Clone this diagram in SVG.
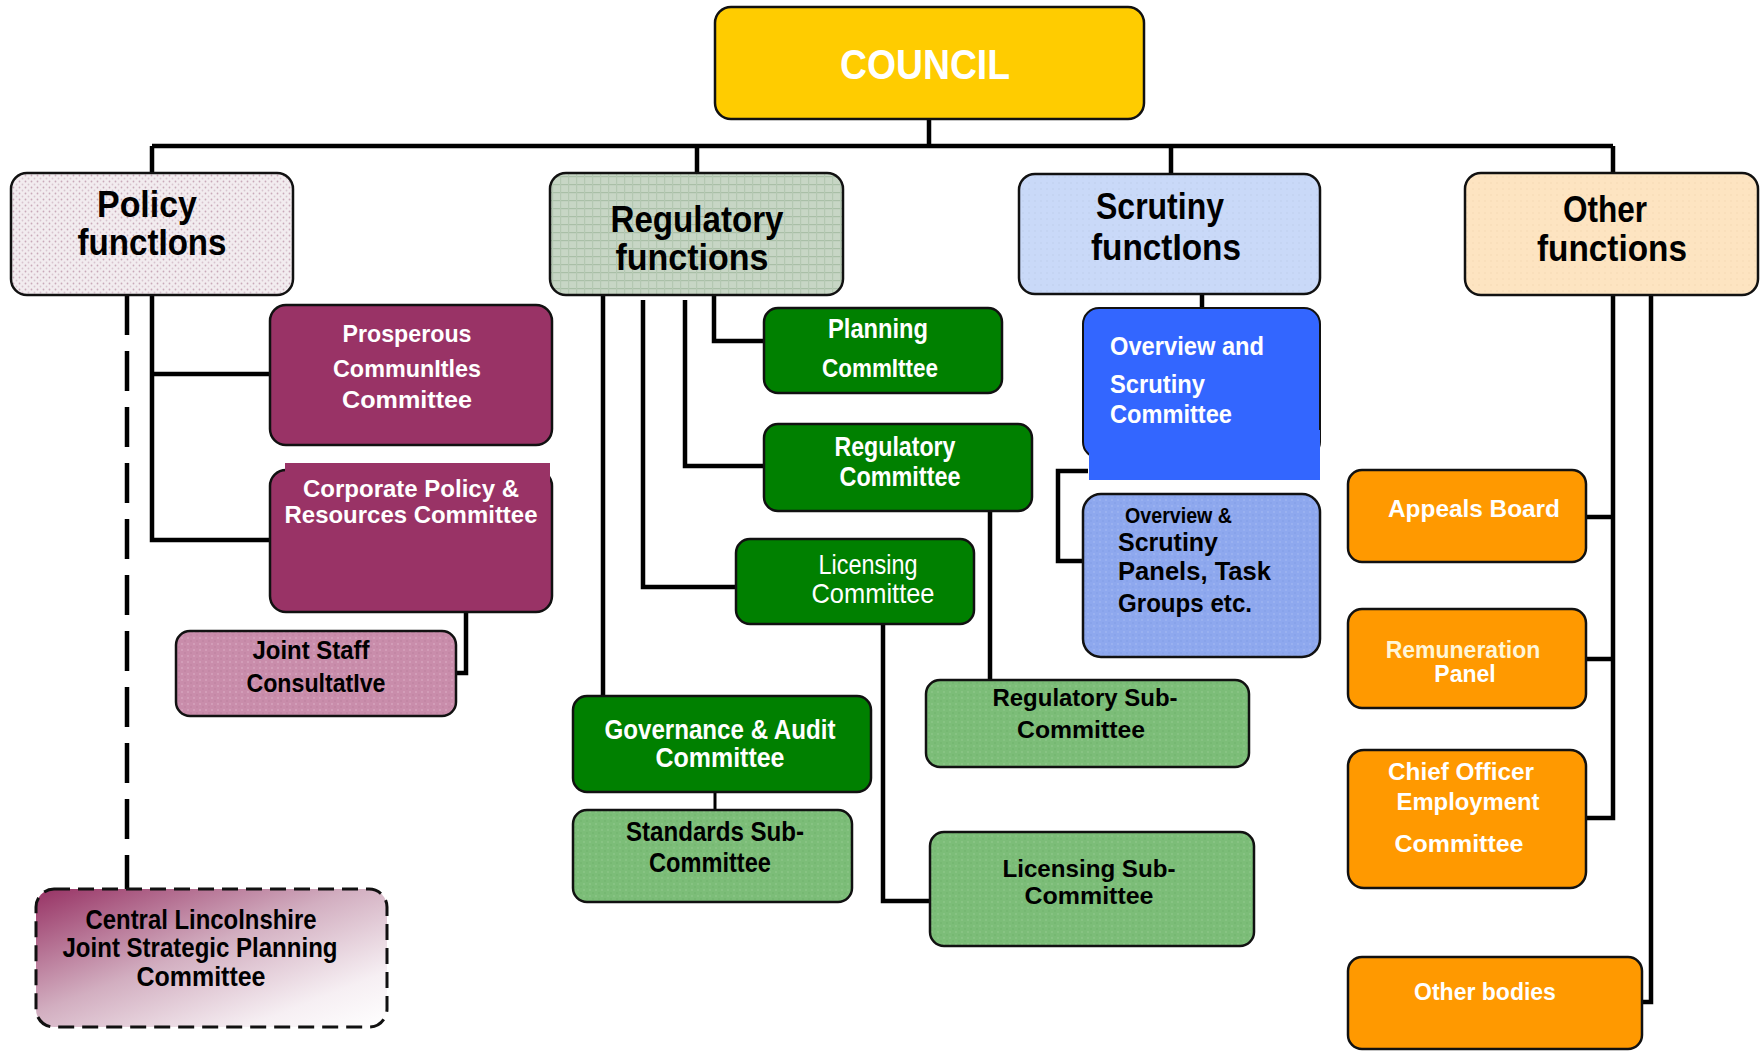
<svg xmlns="http://www.w3.org/2000/svg" width="1760" height="1051" viewBox="0 0 1760 1051">
<defs>
<style>
.box{stroke:#111;stroke-width:2.5}
.conn{fill:none;stroke:#000;stroke-width:4.5}
.tn{font-family:"Liberation Sans",Arial,sans-serif;font-weight:bold}
.tr{font-family:"Liberation Sans",Arial,sans-serif}
.tw{font-family:"Liberation Sans",Arial,sans-serif;font-weight:bold}
.w{fill:#fff}
.k{fill:#000}
.c{text-anchor:middle}
</style>
<pattern id="pPolicy" width="6" height="6" patternUnits="userSpaceOnUse">
<rect width="6" height="6" fill="#f2ecef"/><circle cx="1.5" cy="1.5" r="0.9" fill="#c9a9b9"/><circle cx="4.5" cy="4.5" r="0.9" fill="#d8c4ce"/>
</pattern>
<pattern id="pReg" width="8" height="8" patternUnits="userSpaceOnUse">
<rect width="8" height="8" fill="#c7d6c5"/><rect width="8" height="1.2" fill="#a9bfa7"/><rect width="1.2" height="8" fill="#b4c8b2"/>
</pattern>
<pattern id="pScr" width="6" height="6" patternUnits="userSpaceOnUse">
<rect width="6" height="6" fill="#c9d9f8"/><circle cx="3" cy="3" r="0.7" fill="#bccbe8"/>
</pattern>
<pattern id="pOther" width="6" height="6" patternUnits="userSpaceOnUse">
<rect width="6" height="6" fill="#fde4c1"/><circle cx="3" cy="3" r="0.7" fill="#f2d6b0"/>
</pattern>
<pattern id="pJsc" width="6" height="6" patternUnits="userSpaceOnUse">
<rect width="6" height="6" fill="#c98dab"/><circle cx="2" cy="2" r="1" fill="#d6a3bd"/><circle cx="5" cy="5" r="0.8" fill="#bd7f9e"/>
</pattern>
<pattern id="pLight" width="6" height="6" patternUnits="userSpaceOnUse">
<rect width="6" height="6" fill="#7cbd78"/><circle cx="2" cy="2" r="0.9" fill="#8cc788"/><circle cx="5" cy="5" r="0.8" fill="#6eb16a"/>
</pattern>
<pattern id="pPanel" width="6" height="6" patternUnits="userSpaceOnUse">
<rect width="6" height="6" fill="#8ea8ee"/><circle cx="2" cy="2" r="0.9" fill="#9fb5f2"/><circle cx="5" cy="5" r="0.8" fill="#819de6"/>
</pattern>
<linearGradient id="gCentral" x1="0" y1="0" x2="1" y2="1">
<stop offset="0" stop-color="#973264"/><stop offset="0.45" stop-color="#d2aec0"/><stop offset="0.8" stop-color="#f6eff3"/><stop offset="1" stop-color="#ffffff"/>
</linearGradient>
</defs>
<rect width="1760" height="1051" fill="#fff"/>

<g id="connectors">
<path class="conn" d="M929 119 V146 M152 146 H1613 M152 146 V174 M697 146 V174 M1171 146 V174 M1613 146 V174"/>
<path class="conn" d="M152 295 V540 H270 M152 374 H270"/>
<path class="conn" d="M466 612 V673 H456"/>
<path fill="none" stroke="#000" stroke-width="4.5" stroke-dasharray="40,16" d="M127 295 V889"/>
<path class="conn" d="M603 295 V696"/>
<path class="conn" d="M643 300 V587 H736"/>
<path class="conn" d="M685 300 V466 H764"/>
<path class="conn" d="M714 295 V341 H764"/>
<path fill="none" stroke="#000" stroke-width="3" d="M715 792 V810"/>
<path class="conn" d="M990 511 V680"/>
<path class="conn" d="M883 624 V901 H930"/>
<path class="conn" d="M1202 294 V308"/>
<path class="conn" d="M1088 471 H1058 V561 H1083"/>
<path class="conn" d="M1613 295 V818 H1586 M1586 517 H1613 M1586 659 H1613"/>
<path class="conn" d="M1651 295 V1002 H1642"/>
</g>

<g id="council">
<rect class="box" x="715" y="7" width="429" height="112" rx="16" fill="#ffcc00"/>
<text class="tn w c" x="925" y="79" font-size="42" textLength="170" lengthAdjust="spacingAndGlyphs">COUNCIL</text>
</g>

<g id="policy-functions">
<rect class="box" x="11" y="173" width="282" height="122" rx="16" fill="url(#pPolicy)"/>
<text class="tn k c" x="147" y="217" font-size="36" textLength="100" lengthAdjust="spacingAndGlyphs">Policy</text>
<text class="tn k c" x="152" y="255" font-size="36" textLength="149" lengthAdjust="spacingAndGlyphs">functIons</text>
</g>

<g id="regulatory-functions">
<rect class="box" x="550" y="173" width="293" height="122" rx="16" fill="url(#pReg)"/>
<text class="tn k c" x="697" y="232" font-size="36" textLength="173" lengthAdjust="spacingAndGlyphs">Regulatory</text>
<text class="tn k c" x="692" y="270" font-size="36" textLength="153" lengthAdjust="spacingAndGlyphs">functions</text>
</g>

<g id="scrutiny-functions">
<rect class="box" x="1019" y="174" width="301" height="120" rx="16" fill="url(#pScr)"/>
<text class="tn k c" x="1160" y="219" font-size="36" textLength="128" lengthAdjust="spacingAndGlyphs">Scrutiny</text>
<text class="tn k c" x="1166" y="260" font-size="36" textLength="150" lengthAdjust="spacingAndGlyphs">functIons</text>
</g>

<g id="other-functions">
<rect class="box" x="1465" y="173" width="293" height="122" rx="16" fill="url(#pOther)"/>
<text class="tn k c" x="1605" y="222" font-size="36" textLength="84" lengthAdjust="spacingAndGlyphs">Other</text>
<text class="tn k c" x="1612" y="261" font-size="36" textLength="150" lengthAdjust="spacingAndGlyphs">functions</text>
</g>

<g id="prosperous-communities">
<rect class="box" x="270" y="305" width="282" height="140" rx="16" fill="#993366"/>
<text class="tw w c" x="407" y="342" font-size="24" textLength="129" lengthAdjust="spacingAndGlyphs">Prosperous</text>
<text class="tw w c" x="407" y="377" font-size="24" textLength="148" lengthAdjust="spacingAndGlyphs">CommunItles</text>
<text class="tw w c" x="407" y="408" font-size="24" textLength="130" lengthAdjust="spacingAndGlyphs">Committee</text>
</g>

<g id="corporate-policy">
<rect class="box" x="270" y="470" width="282" height="142" rx="16" fill="#993366"/>
<rect x="285" y="463" width="265" height="40" fill="#993366"/>
<text class="tw w c" x="411" y="497" font-size="24" textLength="216" lengthAdjust="spacingAndGlyphs">Corporate Policy &amp;</text>
<text class="tw w c" x="411" y="523" font-size="24" textLength="253" lengthAdjust="spacingAndGlyphs">Resources Committee</text>
</g>

<g id="joint-staff">
<rect class="box" x="176" y="631" width="280" height="85" rx="14" fill="url(#pJsc)"/>
<text class="tw k c" x="311" y="659" font-size="25" textLength="117" lengthAdjust="spacingAndGlyphs">Joint Staff</text>
<text class="tw k c" x="316" y="692" font-size="25" textLength="139" lengthAdjust="spacingAndGlyphs">ConsultatIve</text>
</g>

<g id="central-lincolnshire">
<rect x="36" y="889" width="351" height="138" rx="18" fill="url(#gCentral)" stroke="#111" stroke-width="3" stroke-dasharray="16,8"/>
<text class="tn k c" x="201" y="929" font-size="27" textLength="231" lengthAdjust="spacingAndGlyphs">Central  Lincolnshire</text>
<text class="tn k c" x="200" y="957" font-size="27" textLength="275" lengthAdjust="spacingAndGlyphs">Joint Strategic Planning</text>
<text class="tn k c" x="201" y="986" font-size="27" textLength="129" lengthAdjust="spacingAndGlyphs">Committee</text>
</g>

<g id="planning-committee">
<rect class="box" x="764" y="308" width="238" height="85" rx="14" fill="#008000"/>
<text class="tn w c" x="878" y="338" font-size="28" textLength="100" lengthAdjust="spacingAndGlyphs">Planning</text>
<text class="tn w c" x="880" y="377" font-size="26" textLength="116" lengthAdjust="spacingAndGlyphs">CommIttee</text>
</g>

<g id="regulatory-committee">
<rect class="box" x="764" y="424" width="268" height="87" rx="14" fill="#008000"/>
<text class="tn w c" x="895" y="456" font-size="28" textLength="121" lengthAdjust="spacingAndGlyphs">Regulatory</text>
<text class="tn w c" x="900" y="486" font-size="28" textLength="121" lengthAdjust="spacingAndGlyphs">Committee</text>
</g>

<g id="licensing-committee">
<rect class="box" x="736" y="539" width="238" height="85" rx="14" fill="#008000"/>
<text class="tr w c" x="868" y="574" font-size="28" textLength="99" lengthAdjust="spacingAndGlyphs">Licensing</text>
<text class="tr w c" x="873" y="603" font-size="28" textLength="123" lengthAdjust="spacingAndGlyphs">Committee</text>
</g>

<g id="governance-audit">
<rect class="box" x="573" y="696" width="298" height="96" rx="14" fill="#008000"/>
<text class="tn w c" x="720" y="739" font-size="27" textLength="231" lengthAdjust="spacingAndGlyphs">Governance &amp; Audit</text>
<text class="tn w c" x="720" y="767" font-size="27" textLength="129" lengthAdjust="spacingAndGlyphs">Committee</text>
</g>

<g id="standards-sub">
<rect class="box" x="573" y="810" width="279" height="92" rx="14" fill="url(#pLight)"/>
<text class="tn k c" x="715" y="841" font-size="27" textLength="178" lengthAdjust="spacingAndGlyphs">Standards Sub-</text>
<text class="tn k c" x="710" y="872" font-size="27" textLength="122" lengthAdjust="spacingAndGlyphs">Committee</text>
</g>

<g id="regulatory-sub">
<rect class="box" x="926" y="680" width="323" height="87" rx="14" fill="url(#pLight)"/>
<text class="tw k c" x="1085" y="706" font-size="24" textLength="185" lengthAdjust="spacingAndGlyphs">Regulatory Sub-</text>
<text class="tw k c" x="1081" y="738" font-size="24" textLength="128" lengthAdjust="spacingAndGlyphs">Committee</text>
</g>

<g id="licensing-sub">
<rect class="box" x="930" y="832" width="324" height="114" rx="14" fill="url(#pLight)"/>
<text class="tw k c" x="1089" y="877" font-size="24" textLength="173" lengthAdjust="spacingAndGlyphs">Licensing  Sub-</text>
<text class="tw k c" x="1089" y="904" font-size="24" textLength="129" lengthAdjust="spacingAndGlyphs">Committee</text>
</g>

<g id="overview-scrutiny">
<rect x="1083" y="308" width="237" height="150" rx="16" fill="#3366ff" stroke="#111" stroke-width="2"/>
<rect x="1089" y="430" width="231" height="50" fill="#3366ff"/>
<text class="tn w" x="1110" y="355" font-size="26" textLength="154" lengthAdjust="spacingAndGlyphs">Overview and</text>
<text class="tn w" x="1110" y="393" font-size="26" textLength="95" lengthAdjust="spacingAndGlyphs">Scrutiny</text>
<text class="tn w" x="1110" y="423" font-size="26" textLength="122" lengthAdjust="spacingAndGlyphs">Committee</text>
</g>

<g id="overview-panels">
<rect class="box" x="1083" y="494" width="237" height="163" rx="18" fill="url(#pPanel)"/>
<text class="tn k" x="1125" y="523" font-size="22" textLength="107" lengthAdjust="spacingAndGlyphs">Overview &amp;</text>
<text class="tn k" x="1118" y="551" font-size="26" textLength="100" lengthAdjust="spacingAndGlyphs">Scrutiny</text>
<text class="tn k" x="1118" y="580" font-size="26" textLength="153" lengthAdjust="spacingAndGlyphs">Panels, Task</text>
<text class="tn k" x="1118" y="612" font-size="26" textLength="134" lengthAdjust="spacingAndGlyphs">Groups etc.</text>
</g>

<g id="appeals-board">
<rect class="box" x="1348" y="470" width="238" height="92" rx="14" fill="#ff9900"/>
<text class="tw w c" x="1474" y="517" font-size="24" textLength="172" lengthAdjust="spacingAndGlyphs">Appeals Board</text>
</g>

<g id="remuneration-panel">
<rect class="box" x="1348" y="609" width="238" height="99" rx="14" fill="#ff9900"/>
<text class="tw c" x="1463" y="658" font-size="23" fill="#fff6d8">Remuneration</text>
<text class="tw w c" x="1465" y="682" font-size="23">Panel</text>
</g>

<g id="chief-officer">
<rect class="box" x="1348" y="750" width="238" height="138" rx="16" fill="#ff9900"/>
<text class="tw w c" x="1461" y="780" font-size="24" textLength="146" lengthAdjust="spacingAndGlyphs">Chief Officer</text>
<text class="tw w c" x="1468" y="810" font-size="24" textLength="143" lengthAdjust="spacingAndGlyphs">Employment</text>
<text class="tw w c" x="1459" y="852" font-size="24" textLength="129" lengthAdjust="spacingAndGlyphs">Committee</text>
</g>

<g id="other-bodies">
<rect class="box" x="1348" y="957" width="294" height="92" rx="14" fill="#ff9900"/>
<text class="tw w c" x="1485" y="1000" font-size="23">Other bodies</text>
</g>
</svg>
